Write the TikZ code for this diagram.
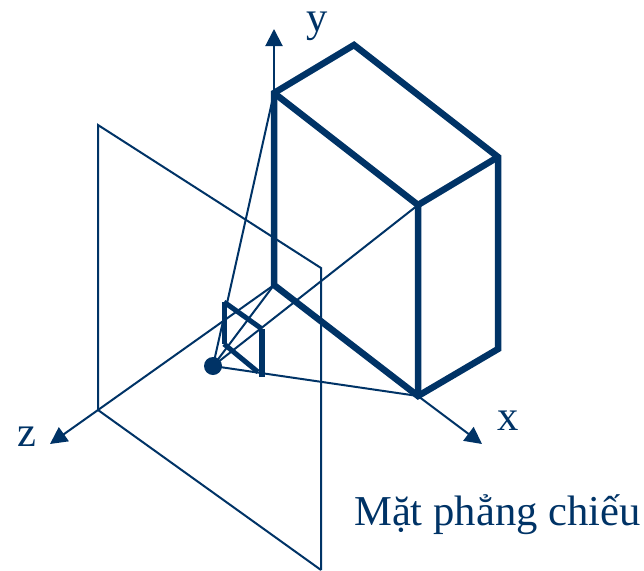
\documentclass[tikz,border=0pt]{standalone}
\usepackage{fontspec}
\setmainfont{Liberation Serif}
\usetikzlibrary{arrows.meta}
\definecolor{navy}{HTML}{003366}
\tikzset{
  thinline/.style={draw=navy,line width=2pt},
  thickline/.style={draw=navy,line width=6.5pt,line cap=butt,line join=miter},
  midline/.style={draw=navy,line width=5pt,line cap=butt},
  barline/.style={draw=navy,line width=6pt,line cap=butt},
  axis/.style={draw=navy,line width=2pt,-{Triangle[length=17pt,width=17pt]}},
  lbl/.style={text=navy,font=\fontsize{42.6}{46}\selectfont,inner sep=0pt},
  planelbl/.style={text=navy,font=\fontsize{42.6}{46}\selectfont,inner sep=0pt}
}
\begin{document}
\begin{tikzpicture}[x=1pt,y=-1pt]
\useasboundingbox (0,0) rectangle (644,570);
% box corners
\coordinate (A) at (274,93);
\coordinate (B) at (418,205);
\coordinate (C) at (418,396);
\coordinate (D) at (274,285);
\coordinate (E) at (354,45);
\coordinate (F) at (498,157);
\coordinate (G) at (498,349);
% projected image
\coordinate (a) at (224,302);
\coordinate (b) at (262,329);
\coordinate (c) at (262,377);
\coordinate (d) at (224,344);
\coordinate (c2) at (258,372);
% plane
\coordinate (P1) at (98,125);
\coordinate (P2) at (321,268);
\coordinate (P3) at (321,570);
\coordinate (P4) at (98,410);
% axis ends
\coordinate (Y) at (274,29);
\coordinate (Z) at (50,444);
\coordinate (X) at (482,444);
% plane
\draw[thinline] (P3) -- (P4) -- (P1) -- (P2) -- (P3);
% axes
\draw[axis] (A) -- (Y);
\draw[axis] (P4) -- (Z);
\draw[thinline] (D) -- (P4);
\draw[axis] (C) -- (X);
% eye and projectors
\node[circle,fill=navy,minimum size=18pt,inner sep=0pt] (eye) at (213,366) {};
\draw[thinline] (eye.center) -- (A);
\draw[thinline] (eye.center) -- (B);
\draw[thinline] (eye.center) -- (C);
\draw[thinline] (eye.center) -- (D);
% box
\draw[thickline] (D) -- (A) -- (E) -- (F) -- (G) -- (C) -- cycle;
\draw[thickline] (A) -- (B) -- (C);
\draw[thickline] (B) -- (F);
% image
\draw[midline] (a) -- (d);
\draw[midline] (a) -- (b);
\draw[midline] (d) -- (c2);
\draw[barline] (b) -- (c);
% labels
\node[lbl,anchor=base] (ly) at (317,31) {y};
\node[lbl,anchor=base] (lx) at (508,430) {x};
\node[lbl,anchor=base] (lz) at (27,446) {z};
\node[planelbl,anchor=base west] (lp) at (354,525) {Mặt phẳng chiếu};
\end{tikzpicture}
\end{document}
